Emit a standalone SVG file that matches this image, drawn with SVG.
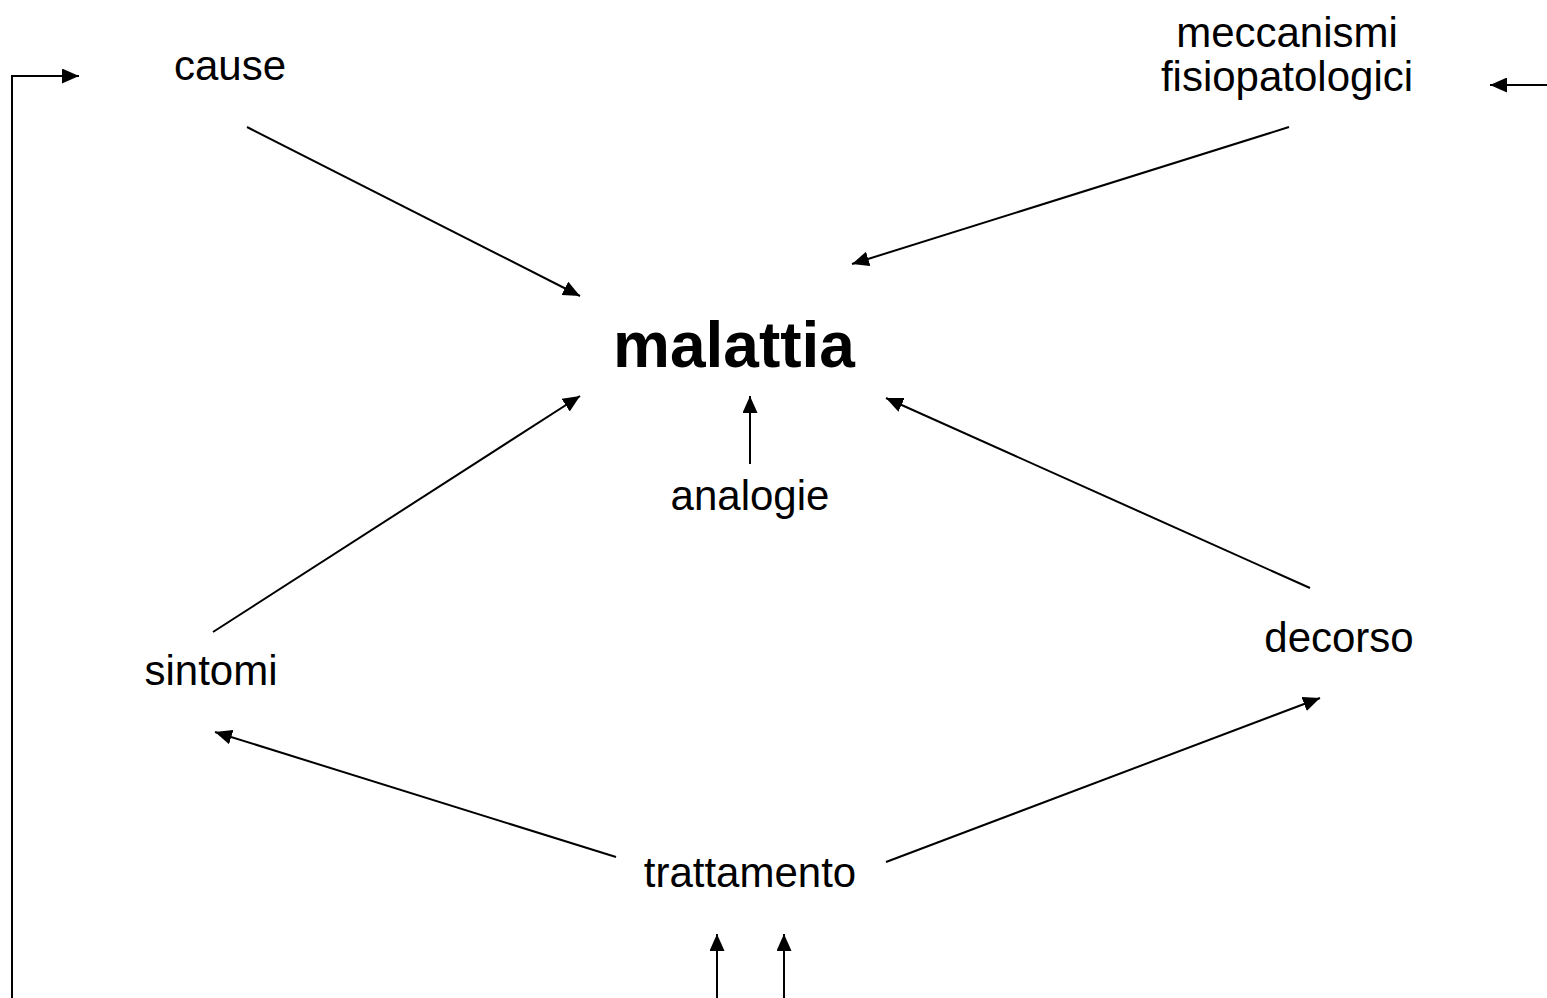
<svg xmlns="http://www.w3.org/2000/svg" width="1547" height="998" viewBox="0 0 1547 998">
<style>
.t{font-family:"Liberation Sans",Arial,sans-serif;font-size:42px;fill:#000;text-anchor:middle}
.b{font-weight:bold;font-size:64px}
.c{stroke:#000;stroke-width:2;fill:none}
</style>
<defs>
<marker id="ah" markerUnits="userSpaceOnUse" markerWidth="17" markerHeight="15" refX="17" refY="7.5" orient="auto">
<path d="M0,0 L17,7.5 L0,15 Z" fill="#000"/>
</marker>
</defs>
<rect width="1547" height="998" fill="#fff"/>
<g id="connectors">
<line class="c" x1="247" y1="127" x2="580" y2="296" marker-end="url(#ah)"/>
<line class="c" x1="1289" y1="127" x2="852" y2="264" marker-end="url(#ah)"/>
<line class="c" x1="213" y1="632" x2="580" y2="396" marker-end="url(#ah)"/>
<line class="c" x1="750" y1="464" x2="750" y2="396" marker-end="url(#ah)"/>
<line class="c" x1="1310" y1="588" x2="886" y2="398" marker-end="url(#ah)"/>
<line class="c" x1="616" y1="857" x2="215" y2="732" marker-end="url(#ah)"/>
<line class="c" x1="886" y1="862" x2="1320" y2="698" marker-end="url(#ah)"/>
<line class="c" x1="717" y1="998" x2="717" y2="934" marker-end="url(#ah)"/>
<line class="c" x1="784" y1="998" x2="784" y2="934" marker-end="url(#ah)"/>
<polyline class="c" points="12,998 12,76 79,76" marker-end="url(#ah)"/>
<line class="c" x1="1547" y1="85" x2="1490" y2="85" marker-end="url(#ah)"/>
</g>
<g id="malattia"><text class="t b" x="734" y="367">malattia</text></g>
<g id="cause"><text class="t" x="230" y="80">cause</text></g>
<g id="meccanismi"><text class="t" x="1287" y="47">meccanismi</text><text class="t" x="1287" y="91">fisiopatologici</text></g>
<g id="analogie"><text class="t" x="750" y="510">analogie</text></g>
<g id="sintomi"><text class="t" x="211" y="685">sintomi</text></g>
<g id="decorso"><text class="t" x="1339" y="652">decorso</text></g>
<g id="trattamento"><text class="t" x="750" y="887">trattamento</text></g>
</svg>
